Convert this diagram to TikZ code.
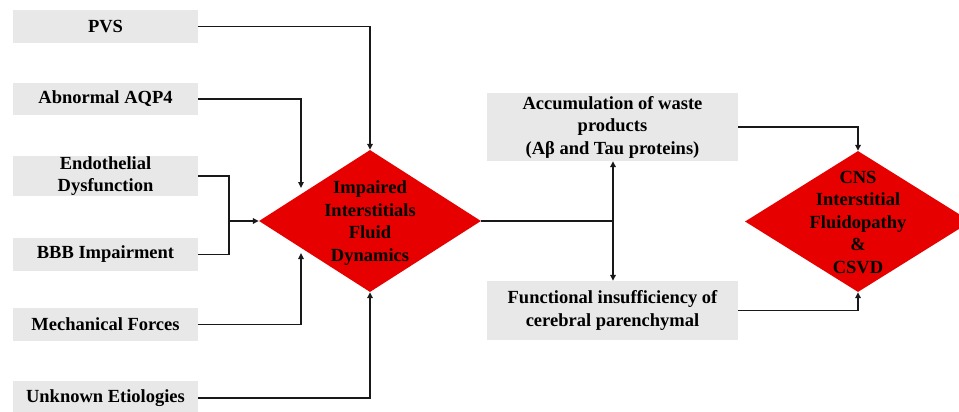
\documentclass[tikz,border=0pt]{standalone}
\usepackage{fontspec}
\setmainfont{Liberation Serif}
\usetikzlibrary{arrows.meta,shapes.geometric}
\definecolor{boxgray}{RGB}{232,232,232}
\definecolor{dred}{RGB}{230,0,0}
\tikzset{
  box/.style={fill=boxgray, inner sep=0pt, align=center, minimum width=185pt,
    font=\fontsize{18.5}{22.5}\selectfont\bfseries},
  rbox/.style={fill=boxgray, inner sep=0pt, align=center, minimum width=251pt,
    font=\fontsize{18.5}{22.5}\selectfont\bfseries},
  dia/.style={diamond, fill=dred, inner sep=0pt, minimum width=222pt, minimum height=142pt},
  dtext/.style={align=center, inner sep=0pt, text=black,
    font=\fontsize{18.5}{22.5}\selectfont\bfseries},
  conn/.style={line width=1.6pt, draw=black!90},
  arr/.style={conn, -{Triangle[length=6pt,width=5.5pt]}},
}
\begin{document}
\begin{tikzpicture}[x=1pt,y=-1pt]
\clip (0,0) rectangle (959,412);
\fill[white] (0,0) rectangle (959,412);

% left boxes
\node[box, minimum height=33pt] (pvs)  at (105.5,26.5) {PVS};
\node[box, minimum height=32pt] (aqp)  at (105.5,99)   {Abnormal AQP4};
\node[box, minimum height=38pt] (endo) at (105.5,176)  {Endothelial\\Dysfunction};
\node[box, minimum height=33pt] (bbb)  at (105.5,254.5){BBB Impairment};
\node[box, minimum height=33pt] (mech) at (105.5,324.5){Mechanical Forces};
\node[box, minimum height=34pt] (unk)  at (105.5,398)  {Unknown Etiologies};

% central diamond
\node[dia] (d1) at (370,221) {};
\node[dtext] (d1t) at (370,223) {Impaired\\Interstitials\\Fluid\\Dynamics};

% right boxes
\node[rbox, minimum height=68pt] (acc) at (612.5,127) {Accumulation of waste\\products\\(Aβ and Tau proteins)};
\node[rbox, minimum height=59pt] (fun) at (612.5,310.5) {Functional insufficiency of\\cerebral parenchymal};

% right diamond
\node[dia, minimum width=226pt, minimum height=141pt] (d2) at (858,221.5) {};
\node[dtext] (d2t) at (858,222.5) {CNS\\Interstitial\\Fluidopathy\\\&\\CSVD};

% coordinates
\coordinate (aqpend) at (301,188);
\coordinate (mechend) at (301,253);
\coordinate (j1) at (229,221);
\coordinate (j2) at (613,221);

% connectors left
\draw[arr] (pvs.east) -| (d1.north);
\draw[arr] (aqp.east) -| (aqpend);
\draw[conn] (endo.east) -| (j1);
\draw[conn] (bbb.east) -| (j1);
\draw[arr] (j1) -- (d1.west);
\draw[arr] (mech.east) -| (mechend);
\draw[arr] (unk.east) -| (d1.south);

% connectors right
\draw[conn] (d1.east) -- (j2);
\draw[arr] (j2) -- (acc.south -| j2);
\draw[arr] (j2) -- (fun.north -| j2);
\draw[arr] (acc.east) -| (d2.north);
\draw[arr] (fun.east) -| (d2.south);
\end{tikzpicture}
\end{document}
